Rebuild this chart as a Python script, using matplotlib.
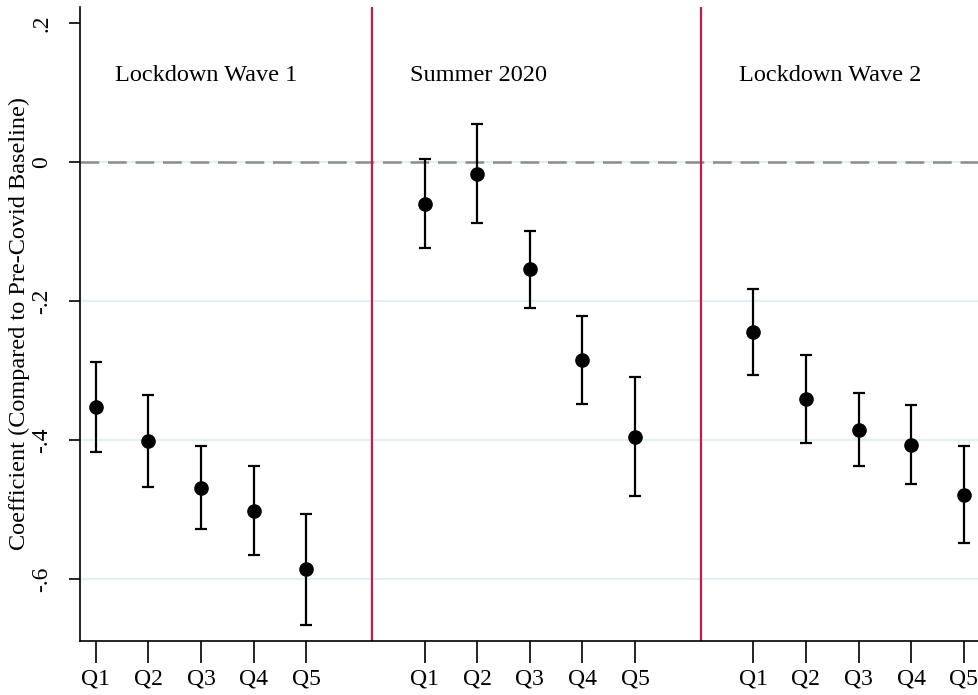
import numpy as np
import matplotlib
matplotlib.use("Agg")
import matplotlib.pyplot as plt

plt.rcParams["font.family"] = ["Liberation Serif", "DejaVu Serif"]

# Quintile coefficients and 95% CI bounds for each period
quintiles = ["Q1", "Q2", "Q3", "Q4", "Q5"]
periods = ["Lockdown Wave 1", "Summer 2020", "Lockdown Wave 2"]

coef_wave1 = [-0.353, -0.402, -0.469, -0.502, -0.586]
upper_wave1 = [-0.288, -0.335, -0.409, -0.437, -0.506]
lower_wave1 = [-0.417, -0.468, -0.528, -0.565, -0.666]

coef_summer = [-0.060, -0.017, -0.154, -0.285, -0.395]
upper_summer = [0.005, 0.054, -0.099, -0.222, -0.309]
lower_summer = [-0.123, -0.088, -0.210, -0.348, -0.481]

coef_wave2 = [-0.245, -0.341, -0.385, -0.407, -0.479]
upper_wave2 = [-0.183, -0.278, -0.332, -0.350, -0.409]
lower_wave2 = [-0.307, -0.404, -0.437, -0.463, -0.548]

coefs = [coef_wave1, coef_summer, coef_wave2]
uppers = [upper_wave1, upper_summer, upper_wave2]
lowers = [lower_wave1, lower_summer, lower_wave2]

# x layout: each period block starts at an offset, red divider at offset
offsets = [0.0, 6.25, 12.5]
label_x = [1.36, 6.97, 13.22]

fig = plt.figure(figsize=(9.79, 6.95), dpi=100)
ax = fig.add_axes([80 / 979, 54 / 695, 899 / 979, 634 / 695])

# grid lines
for gy in [0, -0.2, -0.4, -0.6]:
    ax.axhline(gy, color="#e6eef1", linewidth=1.5, zorder=0)
ax.axhline(0, color="#8c8c8c", linewidth=1.8, linestyle=(0, (7.5, 3.5)), zorder=1)

xticks = []
for off, c, up, lo in zip(offsets, coefs, uppers, lowers):
    x = off + np.arange(1, 6)
    c = np.array(c)
    yerr = np.vstack([c - np.array(lo), np.array(up) - c])
    ax.errorbar(x, c, yerr=yerr, fmt="o", color="black", markersize=9.5,
                elinewidth=1.6, capsize=4.3, capthick=1.6, zorder=3)
    xticks.extend(x)

for off in offsets[1:]:
    ax.axvline(off, color="#c9184a", linewidth=1.6, zorder=2)

for lx, name in zip(label_x, periods):
    ax.text(lx, 0.125, name, fontsize=17.5, ha="left", va="center")

ax.set_xlim(0.70, 17.79)
ax.set_ylim(-0.689, 0.223)

ax.set_xticks(xticks)
ax.set_xticklabels(quintiles * 3, fontsize=17)
ax.set_yticks([0.2, 0, -0.2, -0.4, -0.6])
ax.set_yticklabels([".2", "0", "-.2", "-.4", "-.6"], fontsize=17,
                   rotation=90, va="center")
ax.tick_params(axis="x", length=16, width=1.2, pad=4)
ax.tick_params(axis="y", length=8, width=1.2, pad=12)

ax.set_ylabel("Coefficient (Compared to Pre-Covid Baseline)", fontsize=17.5,
              labelpad=1)

for side in ["top", "right"]:
    ax.spines[side].set_visible(False)
ax.spines["left"].set_linewidth(1.2)
ax.spines["bottom"].set_linewidth(1.2)

fig.savefig("out.png", dpi=100)
